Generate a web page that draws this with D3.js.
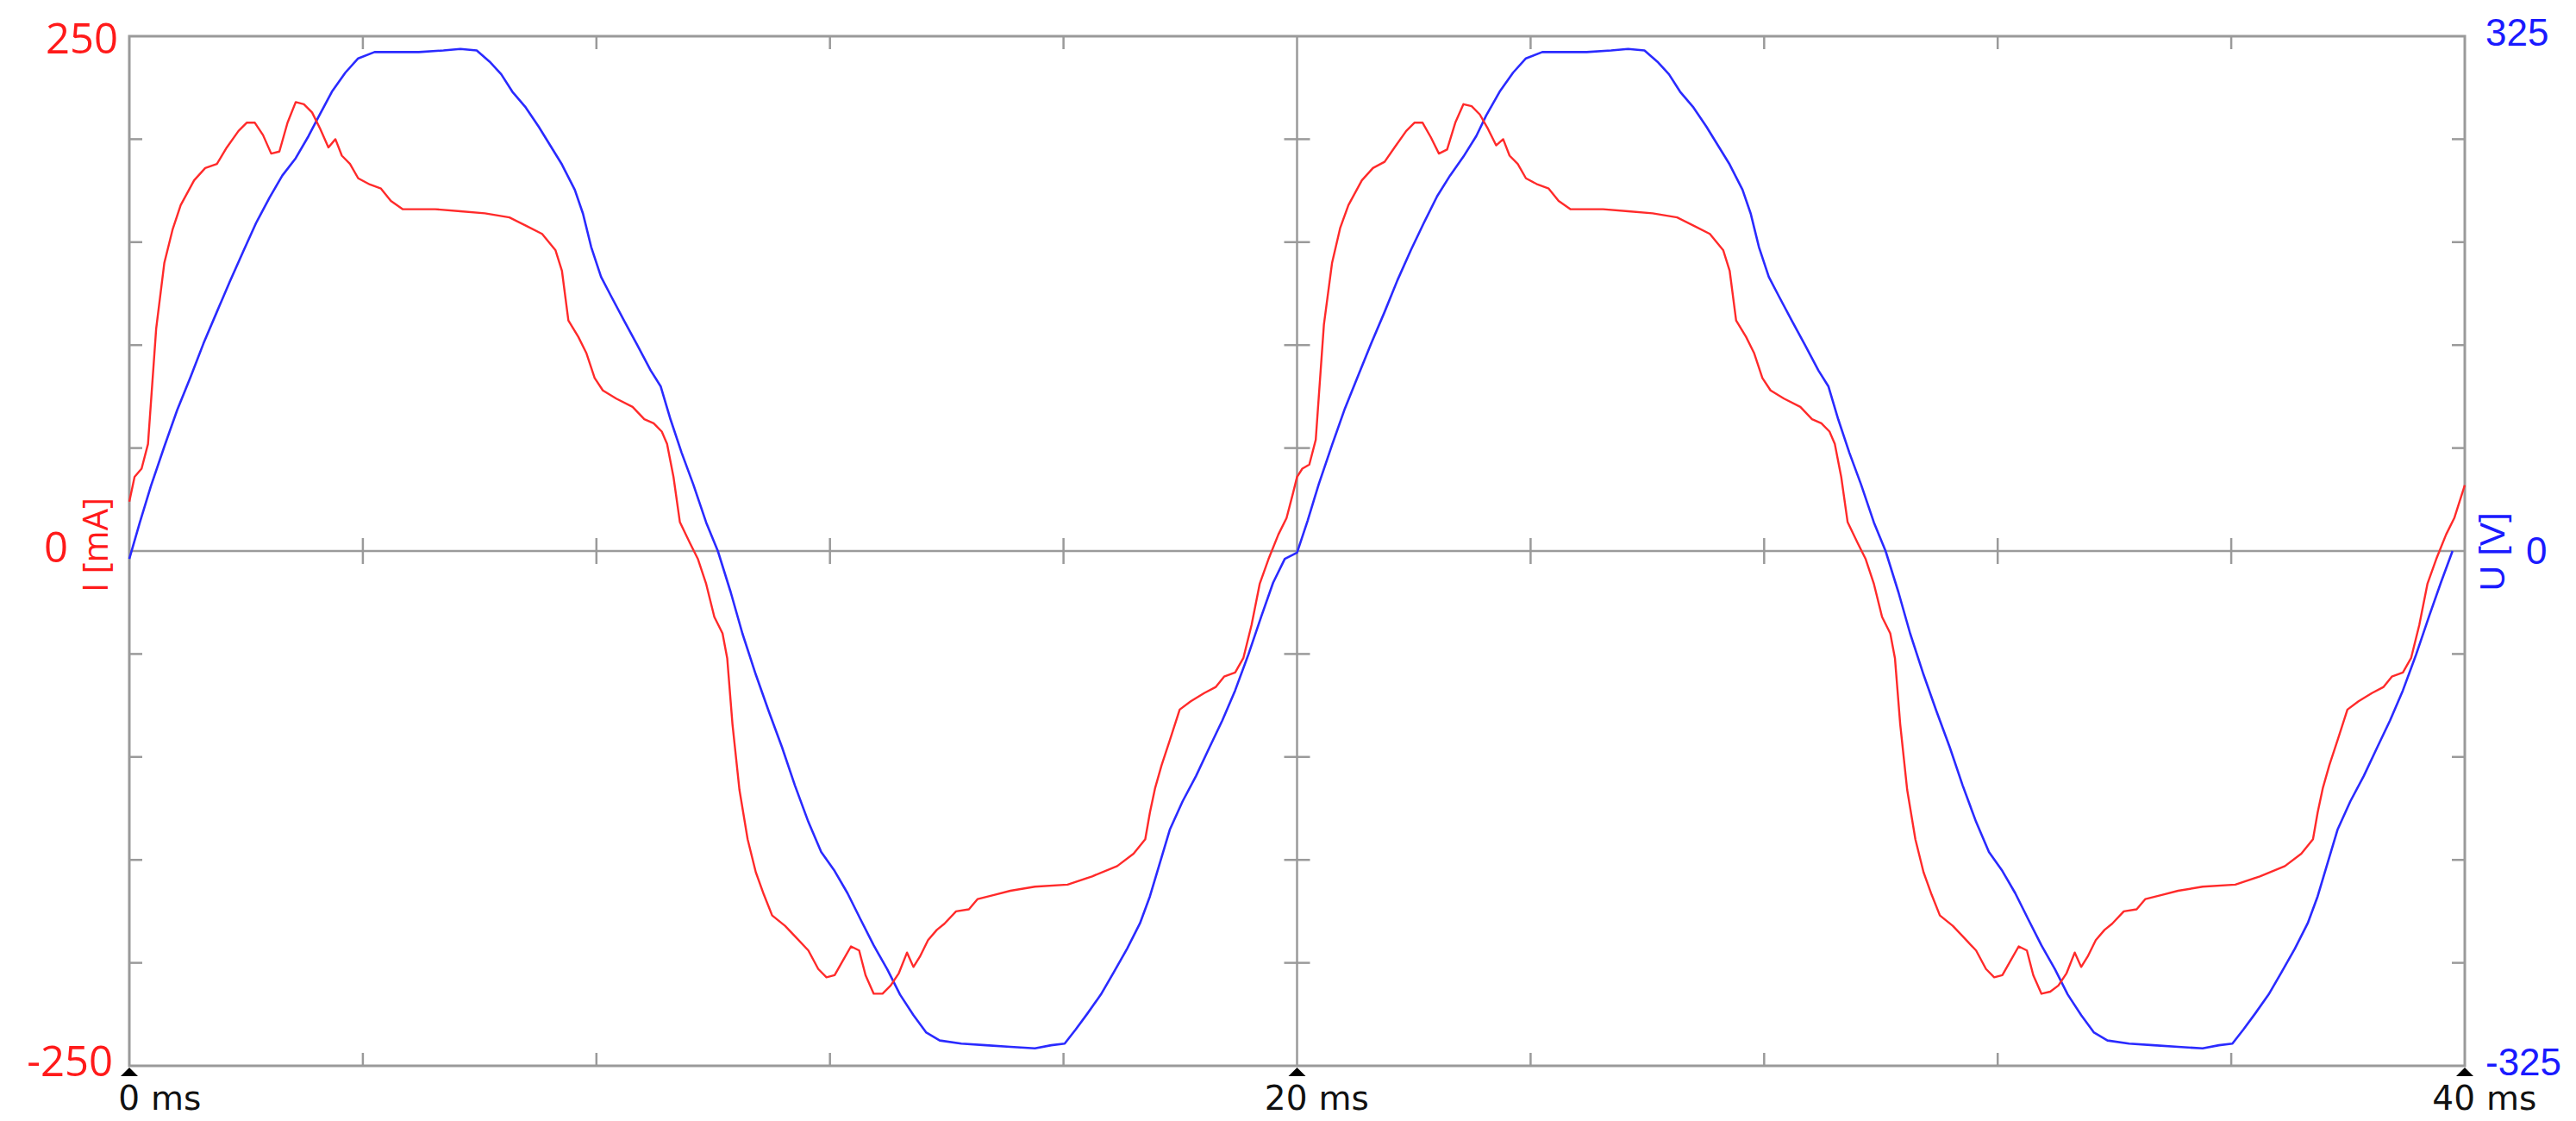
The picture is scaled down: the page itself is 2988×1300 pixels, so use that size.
<!DOCTYPE html>
<html>
<head>
<meta charset="utf-8">
<script src="https://cdn.jsdelivr.net/npm/d3@7"></script>
<style>
html,body{margin:0;padding:0;background:#fff;}
svg{display:block;}
</style>
</head>
<body>
<svg id="chart" width="2988" height="1300"></svg>
<script>
// ---- DATA (time in ms) ----
const currentTime = [
  0,0.09,0.21,0.32,0.46,0.60,0.74,0.88,1.11,1.30,1.50,1.67,1.87,2.01,2.15,2.29,2.43,2.57,2.71,2.85,2.99,3.13,3.27,3.41,3.53,3.64,3.78,3.92,4.12,4.31,4.48,4.68,4.96,5.24,5.67,6.09,6.51,6.79,7.07,7.30,7.41,7.52,7.69,7.83,7.97,8.11,8.34,8.62,8.82,8.98,9.12,9.21,9.32,9.43,9.60,9.74,9.88,10.02,10.16,10.24,10.33,10.45,10.59,10.73,10.87,11.01,11.23,11.43,11.63,11.80,11.94,12.08,12.22,12.36,12.50,12.61,12.75,12.90,13.04,13.18,13.32,13.43,13.54,13.68,13.83,13.96,14.16,14.38,14.53,14.81,15.09,15.51,16.07,16.49,16.92,17.20,17.40,17.48,17.57,17.68,17.82,17.99,18.18,18.41,18.61,18.75,18.94,19.08,19.22,19.36,19.51,19.68,19.82,19.93,
  20.00,20.09,20.21,20.32,20.46,20.60,20.74,20.88,21.11,21.30,21.50,21.67,21.87,22.01,22.15,22.29,22.43,22.57,22.71,22.85,22.99,23.13,23.27,23.41,23.53,23.64,23.78,23.92,24.12,24.31,24.48,24.68,24.96,25.24,25.67,26.09,26.51,26.79,27.07,27.30,27.41,27.52,27.69,27.83,27.97,28.11,28.34,28.62,28.82,28.98,29.12,29.21,29.32,29.43,29.60,29.74,29.88,30.02,30.16,30.24,30.33,30.45,30.59,30.73,30.87,31.01,31.23,31.43,31.63,31.80,31.94,32.08,32.22,32.36,32.50,32.61,32.75,32.90,33.04,33.18,33.32,33.43,33.54,33.68,33.83,33.96,34.16,34.38,34.53,34.81,35.09,35.51,36.07,36.49,36.92,37.20,37.40,37.48,37.57,37.68,37.82,37.99,38.18,38.41,38.61,38.75,38.94,39.08,39.22,39.36,39.51,39.68,39.82,40.00
];
const currentMA = [
  24,36,40,52,108,140,156,168,180,186,188,196,204,208,208,202,193,194,208,218,217,213,205,196,200,192,188,181,178,176,170,166,166,166,165,164,162,158,154,146,136,112,104,96,84,78,74,70,64,62,58,52,36,14,4,-4,-16,-32,-40,-52,-84,-116,-140,-156,-167,-177,-182,-188,-194,-203,-207,-206,-199,-192,-194,-206,-215,-215,-211,-205,-195,-202,-197,-189,-184,-181,-175,-174,-169,-167,-165,-163,-162,-158,-153,-147,-140,-127,-115,-104,-92,-77,-73,-69,-66,-61,-59,-52,-36,-16,-4,8,16,28,
  36,40,42,54,110,140,157,168,180,186,189,196,204,208,208,201,193,195,208,217,216,212,205,197,200,192,188,181,178,176,170,166,166,166,165,164,162,158,154,146,136,112,104,96,84,78,74,70,64,62,58,52,36,14,4,-4,-16,-32,-40,-52,-84,-116,-140,-156,-167,-177,-182,-188,-194,-203,-207,-206,-199,-192,-194,-206,-215,-214,-211,-205,-195,-202,-197,-189,-184,-181,-175,-174,-169,-167,-165,-163,-162,-158,-153,-147,-140,-127,-115,-104,-92,-77,-73,-69,-66,-61,-59,-52,-36,-16,-4,8,16,32
];
const voltageTime = [
  0,0.18,0.37,0.60,0.82,1.05,1.27,1.50,1.72,1.95,2.17,2.40,2.62,2.85,3.07,3.24,3.47,3.70,3.92,4.20,4.54,4.96,5.38,5.67,5.95,6.17,6.37,6.56,6.79,7.01,7.21,7.41,7.63,7.77,7.91,8.08,8.25,8.48,8.70,8.93,9.10,9.27,9.46,9.66,9.88,10.08,10.30,10.50,10.73,10.95,11.18,11.40,11.63,11.85,12.08,12.30,12.53,12.75,12.98,13.20,13.43,13.65,13.88,14.25,14.67,15.09,15.51,15.79,16.02,16.21,16.41,16.64,16.86,17.09,17.31,17.48,17.65,17.82,18.04,18.27,18.50,18.72,18.94,19.17,19.39,19.59,19.79,
  20.00,20.18,20.37,20.60,20.82,21.05,21.27,21.50,21.72,21.95,22.17,22.40,22.62,22.85,23.07,23.24,23.47,23.70,23.92,24.20,24.54,24.96,25.38,25.67,25.95,26.17,26.37,26.56,26.79,27.01,27.21,27.41,27.63,27.77,27.91,28.08,28.25,28.48,28.70,28.93,29.10,29.27,29.46,29.66,29.88,30.08,30.30,30.50,30.73,30.95,31.18,31.40,31.63,31.85,32.08,32.30,32.53,32.75,32.98,33.20,33.43,33.65,33.88,34.25,34.67,35.09,35.51,35.79,36.02,36.21,36.41,36.64,36.86,37.09,37.31,37.48,37.65,37.82,38.04,38.27,38.50,38.72,38.94,39.17,39.39,39.59,39.79,40.00
];
const voltageV = [
  -5,18,41,66,89,110,131,151,170,189,207,223,237,248,262,274,290,302,311,315,315,315,316,317,316,309,301,290,280,268,256,244,228,213,192,173,161,145,130,114,104,83,62,42,18,0,-26,-52,-78,-101,-124,-148,-171,-190,-202,-216,-233,-249,-264,-280,-293,-304,-309,-311,-312,-313,-314,-312,-311,-302,-292,-280,-266,-251,-235,-218,-197,-176,-158,-142,-124,-107,-88,-65,-41,-20,-5,
  -1,19,42,67,90,111,131,151,171,190,207,224,237,249,262,275,290,302,311,315,315,315,316,317,316,309,301,290,280,268,256,244,228,213,192,173,161,145,130,114,104,83,62,42,18,0,-26,-52,-78,-101,-124,-148,-171,-190,-202,-216,-233,-249,-264,-280,-293,-304,-309,-311,-312,-313,-314,-312,-311,-302,-292,-280,-266,-251,-235,-218,-197,-176,-158,-142,-124,-107,-88,-65,-41,-20,0
];
const currentTicks = [-250, 0, 250];
const voltageTicks = [-325, 0, 325];
const timeLabels = [0, 20, 40];

// ---- LAYOUT ----
const L = 150, R = 2859, T = 42, B = 1236;
const gridColor = "#9a9a9a";
const red = "#ff2a2a", blue = "#2a2aff";

const x = d3.scaleLinear().domain([0, 40]).range([L, R]);
const yI = d3.scaleLinear().domain([-250, 250]).range([B, T]);
const yU = d3.scaleLinear().domain([-325, 325]).range([B, T]);

const svg = d3.select("#chart");

// frame
svg.append("rect").attr("x", L).attr("y", T).attr("width", R - L).attr("height", B - T)
  .attr("fill", "none").attr("stroke", gridColor).attr("stroke-width", 3);

// zero line & middle vertical
svg.append("line").attr("x1", L).attr("x2", R).attr("y1", yI(0)).attr("y2", yI(0))
  .attr("stroke", gridColor).attr("stroke-width", 2.5);
svg.append("line").attr("x1", x(20)).attr("x2", x(20)).attr("y1", T).attr("y2", B)
  .attr("stroke", gridColor).attr("stroke-width", 2.5);

// minor ticks
const tk = 15;
const yMinor = d3.range(-200, 250, 50).filter(v => v !== 0);
const xMinor = d3.range(4, 40, 4).filter(v => v !== 20);
const tg = svg.append("g").attr("stroke", gridColor).attr("stroke-width", 2.5);
yMinor.forEach(v => {
  const yy = yI(v);
  tg.append("line").attr("x1", L).attr("x2", L + tk).attr("y1", yy).attr("y2", yy);
  tg.append("line").attr("x1", R - tk).attr("x2", R).attr("y1", yy).attr("y2", yy);
  tg.append("line").attr("x1", x(20) - tk).attr("x2", x(20) + tk).attr("y1", yy).attr("y2", yy);
});
xMinor.forEach(v => {
  const xx = x(v);
  tg.append("line").attr("x1", xx).attr("x2", xx).attr("y1", T).attr("y2", T + tk);
  tg.append("line").attr("x1", xx).attr("x2", xx).attr("y1", B - tk).attr("y2", B);
  tg.append("line").attr("x1", xx).attr("x2", xx).attr("y1", yI(0) - tk).attr("y2", yI(0) + tk);
});

// curves
const lineI = d3.line().x((d, i) => x(currentTime[i])).y(d => yI(d));
const lineU = d3.line().x((d, i) => x(voltageTime[i])).y(d => yU(d));
svg.append("path").datum(voltageV).attr("d", lineU).attr("fill", "none")
  .attr("stroke", blue).attr("stroke-width", 2.6).attr("stroke-linejoin", "round");
svg.append("path").datum(currentMA).attr("d", lineI).attr("fill", "none")
  .attr("stroke", red).attr("stroke-width", 2.4).attr("stroke-linejoin", "round");

// left axis labels (current)
const leftLabelPos = {"250": [137, 62], "0": [79, 652], "-250": [131, 1248]};
currentTicks.forEach(v => {
  const p = leftLabelPos[String(v)];
  svg.append("text").attr("x", p[0]).attr("y", p[1])
    .attr("text-anchor", "end").attr("fill", "#ff1a1a")
    .attr("font-family", "'Open Sans', 'Noto Sans', sans-serif").attr("font-size", 49)
    .text(v);
});
svg.append("text").attr("transform", `translate(125,${yI(0) - 7}) rotate(-90)`)
  .attr("text-anchor", "middle").attr("fill", "#ff1a1a")
  .attr("font-family", "'Open Sans', 'Noto Sans', sans-serif").attr("font-size", 40)
  .text("I [mA]");

// right axis labels (voltage)
const rightLabelPos = {"325": [2883, 53], "0": [2930, 654], "-325": [2883, 1247]};
voltageTicks.forEach(v => {
  const p = rightLabelPos[String(v)];
  svg.append("text").attr("x", p[0]).attr("y", p[1])
    .attr("text-anchor", "start").attr("fill", "#1a1aff")
    .attr("font-family", "'Liberation Sans', Arial, sans-serif").attr("font-size", 44)
    .text(v);
});
svg.append("text").attr("transform", `translate(2905,${yU(0) + 1}) rotate(-90)`)
  .attr("text-anchor", "middle").attr("fill", "#1a1aff")
  .attr("font-family", "'Liberation Sans', Arial, sans-serif").attr("font-size", 41)
  .text("U [V]");

// x labels and markers
timeLabels.forEach(v => {
  const xx = x(v);
  svg.append("path").attr("d", `M${xx},${B + 2} L${xx - 10},${B + 12} L${xx + 10},${B + 12} Z`)
    .attr("fill", "#000");
  svg.append("text").attr("x", xx + 12).attr("y", 1287).attr("text-anchor", "end")
    .attr("font-family", "'DejaVu Sans', Verdana, sans-serif").attr("font-size", 39)
    .attr("fill", "#111").text(v);
  svg.append("text").attr("x", xx + 25).attr("y", 1287).attr("text-anchor", "start")
    .attr("font-family", "'DejaVu Sans', Verdana, sans-serif").attr("font-size", 39)
    .attr("fill", "#111").text("ms");
});
</script>
</body>
</html>
